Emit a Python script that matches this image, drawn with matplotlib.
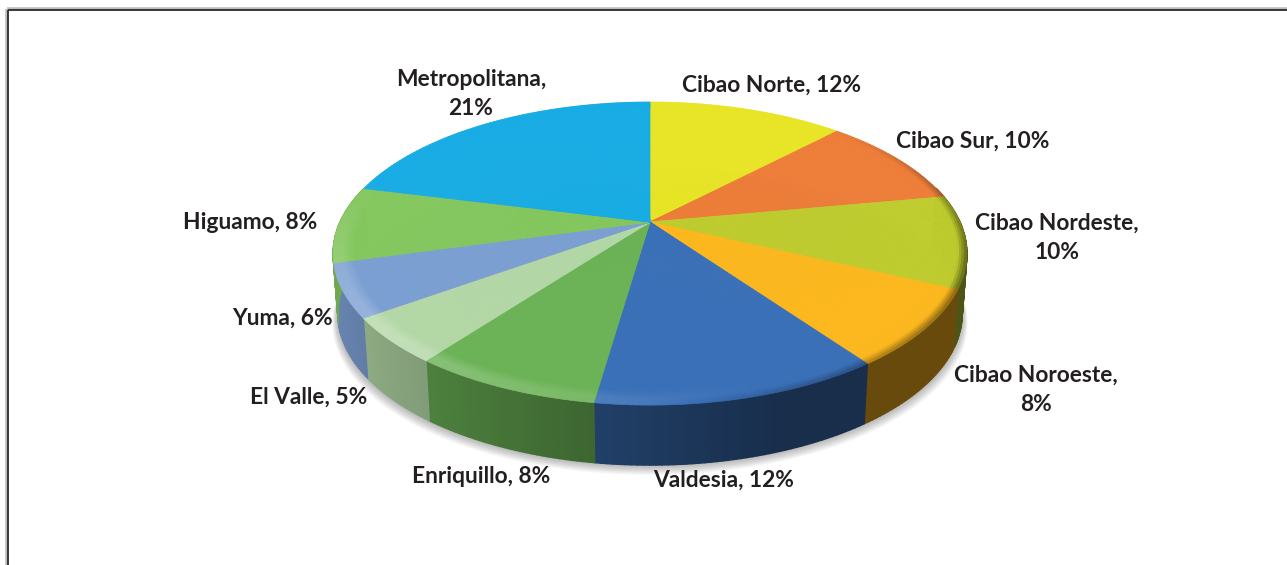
import numpy as np
import matplotlib
matplotlib.use("Agg")
import matplotlib.pyplot as plt
from matplotlib.collections import PolyCollection
from matplotlib.colors import to_rgb

# MAIN DATA
regions = ["Cibao Norte", "Cibao Sur", "Cibao Nordeste", "Cibao Noroeste", "Valdesia",
           "Enriquillo", "El Valle", "Yuma", "Higuamo", "Metropolitana"]
# they round to the printed percentages
shares = [12.2, 9.9, 9.9, 8.1, 12.2, 8.0, 4.8, 5.6, 8.2, 21.1]
colors = ["#E8E526", "#ED7D38", "#BFCC2E", "#FDB81E", "#3A70B8",
          "#6BB356", "#B3D8A6", "#7C9FD3", "#84C75E", "#18ACE4"]
label_texts = ["Cibao Norte, 12%", "Cibao Sur, 10%", "Cibao Nordeste,\n10%", "Cibao Noroeste,\n8%",
               "Valdesia, 12%", "Enriquillo, 8%", "El Valle, 5%", "Yuma, 6%", "Higuamo, 8%",
               "Metropolitana,\n21%"]

# layout, all in pixels of the reference
label_xy = [(772, 85.5), (973, 141.5), (1057, 238), (1036, 390), (724, 480.5),
            (481, 476.5), (309, 397.5), (282, 318.5), (250, 222.5), (471, 94)]
APEX = (650, 222)
PERSP = 0.208
RX, RY = 310, 145
DEPTH = 60


def project(t, r=1.0, base=False):
    """
    Disc coordinates (angle clockwise from the top, radius) to pixels
    """
    u, v = r * np.sin(t), r * np.cos(t)
    w = 1 + PERSP * v
    x = RX * u / w
    y = RY * v / w
    if base:
        return APEX[0] + 0.985 * x, APEX[1] - y + DEPTH
    return APEX[0] + x, APEX[1] - y


def shade(color, f):
    """
    Darken (f<1) or lighten (f>1) a colour
    """
    c = np.array(to_rgb(color))
    if f <= 1:
        return tuple(c * f)
    return tuple(c + (1 - c) * (f - 1))


def wall_factor(t):
    # lighter on the left of the wall, dark on the right
    return max(0.52 - 0.33 * np.sin(t), 0.41)


def rim_factor(t, r):
    # bevel on the outer edge of the top face
    if r < 0.94:
        return 1.0
    s = (r - 0.94) / 0.06
    light = np.clip(-np.sin(t) * 0.7 + 0.2, 0, 1) * np.clip(-np.cos(t) + 0.3, 0, 1)
    dark = np.clip(np.sin(t), 0, 1) * np.clip(-np.cos(t) + 0.75, 0, 1)
    if s < 0.6:
        return 1 + 0.30 * light * s / 0.6
    return 1 + 0.30 * light - (s - 0.6) / 0.4 * 0.45 * dark


fig = plt.figure(figsize=(12.87, 5.65), dpi=100)
ax = fig.add_axes([0, 0, 1, 1])
ax.set_xlim(0, 1287)
ax.set_ylim(565, 0)
ax.axis("off")

# outer frame
ax.plot([7, 7], [565, 9], color="#bbbbbb", lw=2.6, solid_capstyle="butt")
ax.plot([7, 1287], [9, 9], color="#bbbbbb", lw=2.6, solid_capstyle="butt")
ax.plot([7.5, 7.5], [565, 9.5], color="#222222", lw=1.2, solid_capstyle="butt")
ax.plot([7.5, 1287], [9.5, 9.5], color="#222222", lw=1.2, solid_capstyle="butt")

# soft shadow under the pie
all_t = np.linspace(0, 2 * np.pi, 361)
for i in range(12):
    bx, by = project(all_t, base=True)
    ax.fill(APEX[0] + (bx - APEX[0]) * (1 + i * 0.0016), by + i * 0.9,
            color="black", alpha=0.028, lw=0, zorder=1)

edges = np.cumsum([0] + shares) / sum(shares) * 2 * np.pi
rings = np.concatenate([[0.0, 0.93], np.linspace(0.94, 1.0, 9)])

wall_polys, wall_cols, top_polys, top_cols = [], [], [], []
for i in range(len(shares)):
    n = max(int(shares[i] * 4), 4)
    ts = np.linspace(edges[i], edges[i + 1], n + 1)
    for t0, t1 in zip(ts[:-1], ts[1:]):
        if np.cos((t0 + t1) / 2) < 0.25:
            x0, y0 = project(t0)
            x1, y1 = project(t1)
            x2, y2 = project(t1, base=True)
            x3, y3 = project(t0, base=True)
            wall_polys.append([(x0, y0), (x1, y1), (x2, y2), (x3, y3)])
            wall_cols.append(shade(colors[i], wall_factor((t0 + t1) / 2)))
        for r0, r1 in zip(rings[:-1], rings[1:]):
            a = project(t0, r0)
            b = project(t1, r0)
            c = project(t1, r1)
            d = project(t0, r1)
            top_polys.append([a, b, c, d])
            top_cols.append(shade(colors[i], rim_factor((t0 + t1) / 2, r1)))

ax.add_collection(PolyCollection(wall_polys, facecolors=wall_cols, edgecolors="face", linewidths=1.0, zorder=2))
ax.add_collection(PolyCollection(top_polys, facecolors=top_cols, edgecolors="face", linewidths=0.5, zorder=3))

for text, (lx, ly) in zip(label_texts, label_xy):
    ax.text(lx, ly, text, ha="center", va="center", family="Lato", weight="bold",
            fontsize=16.4, color="#231F20", linespacing=1.5, zorder=5)

fig.savefig("out.png", dpi=100)
